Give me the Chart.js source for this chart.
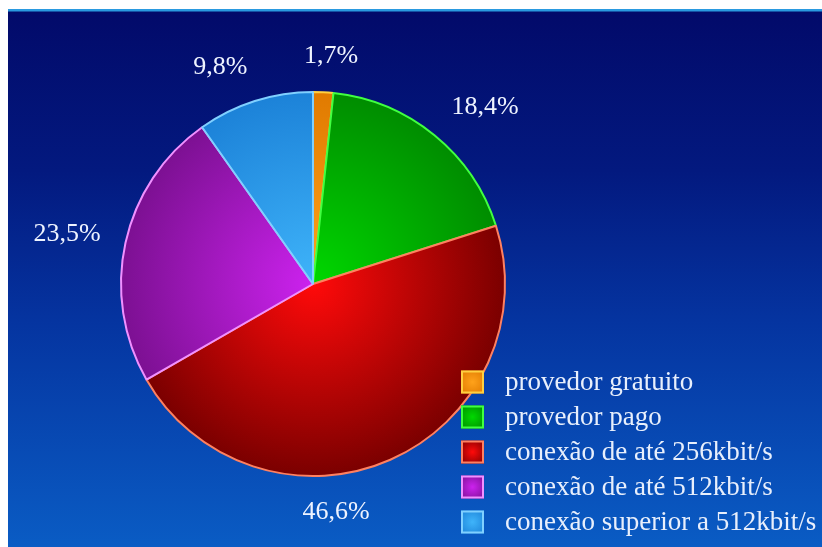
<!DOCTYPE html>
<html>
<head>
<meta charset="utf-8">
<script src="https://cdn.jsdelivr.net/npm/chart.js@4.4.0/dist/chart.umd.min.js"></script>
<style>
  html, body { margin: 0; background: #fff; }
  #panel {
    position: absolute; left: 8px; top: 9px; width: 814px; height: 538px;
    background: linear-gradient(to bottom, #2a9ae0 0, #2a9ae0 2px, #020a6a 3px, #03197f 30%, #0534a0 58%, #0a5cc4 100%);
  }
  canvas { display: block; }
</style>
</head>
<body>
<div id="panel"><canvas id="accessChart" width="814" height="538"></canvas></div>
<script>
const categories = [
  'provedor gratuito',
  'provedor pago',
  'conexão de até 256kbit/s',
  'conexão de até 512kbit/s',
  'conexão superior a 512kbit/s'
];
const shares = [1.7, 18.4, 46.6, 23.5, 9.8];
const valueLabels = shares.map(v => v.toFixed(1).replace('.', ',') + '%');

// slice shading: bright centre, darker rim, lighter outline
const innerColors = ['#ffa21a', '#00d800', '#ff0a0a', '#cc22ee', '#3fb4fa'];
const outerColors = ['#e07a00', '#008c00', '#7a0000', '#7c1092', '#1c82d8'];
const edgeColors  = ['#ffd040', '#40ff40', '#ff8060', '#f090ff', '#80d0ff'];

function radialFill(context) {
  const chart = context.chart;
  const area = chart.chartArea;
  if (!area) return innerColors[context.dataIndex];
  const cx = (area.left + area.right) / 2;
  const cy = (area.top + area.bottom) / 2;
  const r = Math.min(area.right - area.left, area.bottom - area.top) / 2;
  const g = chart.ctx.createRadialGradient(cx, cy, 0, cx, cy, r);
  g.addColorStop(0, innerColors[context.dataIndex]);
  g.addColorStop(1, outerColors[context.dataIndex]);
  return g;
}

// percentage text outside each slice
const valueLabelPlugin = {
  id: 'valueLabels',
  afterDatasetsDraw(chart, args, opts) {
    const ctx = chart.ctx;
    const meta = chart.getDatasetMeta(0);
    ctx.save();
    ctx.font = opts.font;
    ctx.fillStyle = opts.color;
    ctx.textAlign = 'center';
    ctx.textBaseline = 'middle';
    meta.data.forEach((arc, i) => {
      const p = arc.getProps(['x', 'y', 'startAngle', 'endAngle', 'outerRadius'], true);
      const mid = (p.startAngle + p.endAngle) / 2 + (opts.shift[i] || 0) * Math.PI / 180;
      const text = valueLabels[i];
      const w = ctx.measureText(text).width;
      const c = Math.cos(mid), s = Math.sin(mid);
      const dist = p.outerRadius + opts.gap + Math.abs(c) * w / 2 + Math.abs(s) * opts.textHeight / 2;
      ctx.fillText(text, p.x + c * dist, p.y + s * dist);
    });
    ctx.restore();
  }
};

// legend block in the lower right corner
const cornerLegendPlugin = {
  id: 'cornerLegend',
  afterDraw(chart, args, opts) {
    const ctx = chart.ctx;
    const labels = chart.data.labels;
    ctx.save();
    ctx.font = opts.font;
    ctx.textAlign = 'left';
    ctx.textBaseline = 'middle';
    labels.forEach((label, i) => {
      const cy = opts.top + i * opts.rowHeight;
      const x = opts.left, y = cy - opts.box / 2;
      const g = ctx.createRadialGradient(x + opts.box / 2, cy, 0, x + opts.box / 2, cy, opts.box * 0.7);
      g.addColorStop(0, innerColors[i]);
      g.addColorStop(1, outerColors[i]);
      ctx.fillStyle = g;
      ctx.fillRect(x, y, opts.box, opts.box);
      ctx.lineWidth = 2;
      ctx.strokeStyle = edgeColors[i];
      ctx.strokeRect(x + 1, y + 1, opts.box - 2, opts.box - 2);
      ctx.fillStyle = opts.color;
      ctx.fillText(label, x + opts.box + opts.textGap, cy + 1);
    });
    ctx.restore();
  }
};

new Chart(document.getElementById('accessChart').getContext('2d'), {
  type: 'pie',
  data: {
    labels: categories,
    datasets: [{
      data: shares,
      backgroundColor: radialFill,
      borderColor: edgeColors,
      borderWidth: 2
    }]
  },
  options: {
    responsive: false,
    animation: false,
    layout: { padding: { left: 112, top: 82, right: 316, bottom: 70 } },
    plugins: {
      legend: { display: false },
      tooltip: { enabled: false },
      valueLabels: {
        font: '26px "Liberation Serif", "Times New Roman", serif',
        color: '#eef3ff',
        gap: 24,
        textHeight: 20,
        shift: [1.5, 5, 18, -1, -5.5]
      },
      cornerLegend: {
        font: '27px "Liberation Serif", "Times New Roman", serif',
        color: '#e8effc',
        left: 453,
        top: 373,
        rowHeight: 35,
        box: 23,
        textGap: 21
      }
    }
  },
  plugins: [valueLabelPlugin, cornerLegendPlugin]
});
</script>
</body>
</html>
